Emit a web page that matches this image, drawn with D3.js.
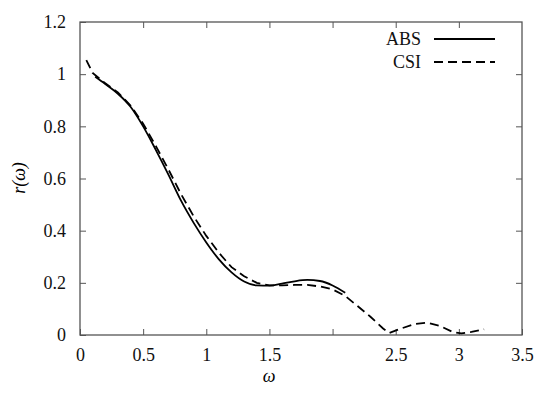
<!DOCTYPE html>
<html><head><meta charset="utf-8">
<script src="https://cdn.jsdelivr.net/npm/d3@7"></script>
<style>body{margin:0;background:#fff}svg{display:block}text{font-family:"Liberation Serif","DejaVu Serif",serif}</style>
</head><body><svg id="c" width="550" height="393"></svg>
<script>
const absOmega = [0.12,0.2,0.3,0.4,0.5,0.6,0.7,0.8,0.9,1.0,1.1,1.2,1.3,1.4,1.5,1.6,1.7,1.8,1.9,2.0,2.1];
const absR     = [0.99,0.962,0.925,0.875,0.80,0.71,0.615,0.515,0.43,0.355,0.29,0.24,0.205,0.19,0.189,0.197,0.206,0.211,0.207,0.19,0.162];
const csiOmega = [0.05,0.1,0.2,0.3,0.4,0.5,0.6,0.7,0.8,0.9,1.0,1.1,1.2,1.3,1.4,1.5,1.6,1.7,1.8,1.9,2.0,2.1,2.2,2.3,2.4,2.45,2.55,2.65,2.75,2.85,2.95,3.02,3.1,3.2];
const csiR     = [1.054,1.005,0.965,0.93,0.88,0.81,0.725,0.635,0.54,0.455,0.38,0.315,0.26,0.225,0.2,0.19,0.19,0.192,0.192,0.186,0.175,0.15,0.11,0.07,0.025,0.008,0.026,0.042,0.047,0.035,0.012,0.006,0.012,0.022];
const xTicks = [0,0.5,1,1.5,2,2.5,3,3.5];
const xTickLabels = ["0","0.5","1","1.5","","2.5","3","3.5"];
const yTicks = [0,0.2,0.4,0.6,0.8,1,1.2];
const yTickLabels = ["0","0.2","0.4","0.6","0.8","1","1.2"];
const seriesNames = ["ABS","CSI"];

const svg = d3.select("#c");
const L=80,R=522,T=22,B=335;
const x = d3.scaleLinear().domain([0,3.5]).range([L,R]);
const y = d3.scaleLinear().domain([0,1.2]).range([B,T]);
const axisCol = "#555";

function styleAxis(g){
  g.attr("font-family",null);
  g.selectAll(".domain").remove();
  g.selectAll(".tick line").attr("stroke",axisCol).attr("stroke-width",1);
  g.selectAll("text").attr("font-size",18).attr("fill","#111");
}
svg.append("g").attr("transform",`translate(0,${B})`)
  .call(d3.axisBottom(x).tickValues(xTicks).tickSize(-6).tickPadding(13).tickFormat((d,i)=>xTickLabels[i]))
  .call(styleAxis);
svg.append("g").attr("transform",`translate(0,${T})`)
  .call(d3.axisTop(x).tickValues(xTicks.slice(1,-1)).tickSize(-6).tickFormat(""))
  .call(styleAxis);
svg.append("g").attr("transform",`translate(${L},0)`)
  .call(d3.axisLeft(y).tickValues(yTicks).tickSize(-6).tickPadding(14).tickFormat((d,i)=>yTickLabels[i]))
  .call(styleAxis);
svg.append("g").attr("transform",`translate(${R},0)`)
  .call(d3.axisRight(y).tickValues(yTicks.slice(1,-1)).tickSize(-6).tickFormat(""))
  .call(styleAxis);
svg.append("rect").attr("x",L).attr("y",T).attr("width",R-L).attr("height",B-T)
  .attr("fill","none").attr("stroke",axisCol).attr("stroke-width",1.3);

const absData = absOmega.map((w,i)=>[w,absR[i]]);
const csiData = csiOmega.map((w,i)=>[w,csiR[i]]);
const lineSmooth = d3.line().x(d=>x(d[0])).y(d=>y(d[1])).curve(d3.curveMonotoneX);
const lineLin = d3.line().x(d=>x(d[0])).y(d=>y(d[1]));

svg.append("path").attr("d",lineSmooth(absData)).attr("fill","none").attr("stroke","#000").attr("stroke-width",1.8);
svg.append("path").attr("d",lineLin(csiData)).attr("fill","none").attr("stroke","#000").attr("stroke-width",1.8).attr("stroke-dasharray","9,5");

const lg = [[seriesNames[0],39,null],[seriesNames[1],62,"9,5"]];
lg.forEach(([n,yy,dash])=>{
  svg.append("text").attr("x",421).attr("y",yy+6).attr("text-anchor","end")
    .attr("font-size",18).attr("fill","#111").text(n);
  const l = svg.append("line").attr("x1",434).attr("x2",495).attr("y1",yy).attr("y2",yy)
    .attr("stroke","#000").attr("stroke-width",1.8);
  if(dash) l.attr("stroke-dasharray",dash);
});

svg.append("text").attr("x",269).attr("y",382).attr("text-anchor","middle")
  .attr("font-style","italic").attr("font-size",18).text("ω");
svg.append("text").attr("transform","translate(25,178) rotate(-90)").attr("text-anchor","middle")
  .attr("font-style","italic").attr("font-size",18).text("r(ω)");
</script></body></html>
